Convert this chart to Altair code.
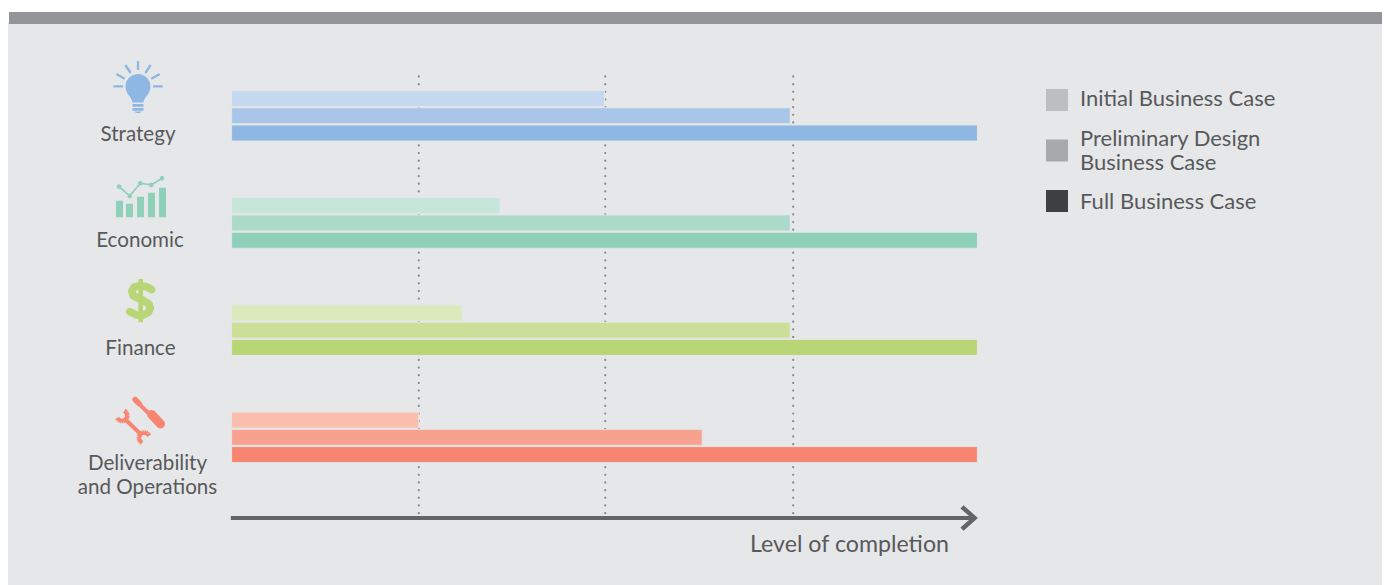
import math
import altair as alt
import pandas as pd

# ---- chart values ----
categories = ["Strategy", "Economic", "Finance", "Deliverability"]
row_labels = ["Strategy", "Economic", "Finance", "Deliverability\nand Operations"]
stages = ["Initial Business Case", "Preliminary Design\nBusiness Case", "Full Business Case"]
initial_values = [50.0, 36.0, 30.9, 25.1]
preliminary_values = [74.9, 74.9, 74.9, 63.1]
full_values = [100, 100, 100, 100]
grid_values = [25.1, 50.1, 75.3]
colors_initial = ["#c4d8ef", "#c7e6da", "#dce9bd", "#fabfae"]
colors_preliminary = ["#a9c6e8", "#abdac8", "#cbdf99", "#f9a18f"]
colors_full = ["#8fb7e3", "#8fd0b8", "#b8d676", "#f88571"]
legend_colors = ["#bcbec0", "#a7a9ac", "#3f4042"]

PANEL = "#e6e7e9"
BAR = "#939598"
GRID = "#8a8c8f"
TEXT = "#58595b"
ARROW = "#646466"
FONT = "Lato"
W, H = 1374, 577

# ---- scales ----
x_scale = alt.Scale(domain=[0, 100], range=[223.6, 969.4])
y_scale = alt.Scale(type="band", domain=categories, range=[83, 454.1], paddingInner=0.538, paddingOuter=0)
offset_scale = alt.Scale(domain=stages, paddingInner=0.13, paddingOuter=0)
legend_y = alt.Scale(type="point", domain=stages, range=[92, 193], padding=0)

# ---- icon outlines (drawn at symbol size 4: one path unit is one pixel) ----
def poly(pts):
    return "M" + "L".join(f"{x:.2f},{y:.2f}" for x, y in pts) + "Z"

def seg(a, b, w):
    dx, dy = b[0] - a[0], b[1] - a[1]
    n = math.hypot(dx, dy) or 1
    ox, oy = -dy / n * w / 2, dx / n * w / 2
    return poly([(a[0] + ox, a[1] + oy), (b[0] + ox, b[1] + oy), (b[0] - ox, b[1] - oy), (a[0] - ox, a[1] - oy)])

def circle(c, r, n=20):
    return poly([(c[0] + r * math.cos(-2 * math.pi * i / n), c[1] + r * math.sin(-2 * math.pi * i / n)) for i in range(n)])

def chain(pts, w):
    out = [seg(pts[i], pts[i + 1], w) for i in range(len(pts) - 1)]
    out += [circle(p, w / 2) for p in pts]
    return "".join(out)

def rect(x0, y0, x1, y1):
    return poly([(x0, y0), (x1, y0), (x1, y1), (x0, y1)])

def arc(c, r, start, stop, w, n=14):
    pts = []
    for i in range(n + 1):
        a = math.radians(start + (stop - start) * i / n)
        pts.append((c[0] + r * math.cos(a), c[1] + r * math.sin(a)))
    return "".join(seg(pts[i], pts[i + 1], w) for i in range(n))

def bulb(dx, dy):
    P = lambda x, y: (x + dx, y + dy)
    rays = [((0, -27), (0, -18)), ((-12.7, -23), (-7.3, -15)), ((12.7, -23), (7.3, -15)),
            ((-21.7, -14), (-13.3, -9.3)), ((21.7, -14), (13.3, -9.3)),
            ((-24.7, -1.7), (-15, -1.7)), ((15, -1.7), (24.7, -1.7))]
    s = "".join(seg(P(*a), P(*b), 2.3) for a, b in rays)
    f = lambda x, y: f"{x + dx:.2f},{y + dy:.2f}"
    s += (f"M{f(-5.5, 14.5)}C{f(-6, 9)} {f(-12.5, 6)} {f(-12.5, -1.5)}"
          f"C{f(-12.5, -9)} {f(-6.5, -14)} {f(0, -14)}"
          f"C{f(6.5, -14)} {f(12.5, -9)} {f(12.5, -1.5)}"
          f"C{f(12.5, 6)} {f(6, 9)} {f(5.5, 14.5)}Z")
    s += rect(-5.5 + dx, 16 + dy, 5.5 + dx, 18.7 + dy) + rect(-5.5 + dx, 20 + dy, 5.5 + dx, 22.7 + dy)
    s += poly([P(-4, 23.5), P(4, 23.5), P(1.5, 25), P(-1.5, 25)])
    return s

def economy(dx, dy):
    P = lambda x, y: (x + dx, y + dy)
    s = ""
    for x0, x1, top in [(-25, -18, 2.7), (-15, -8, 5.7), (-4, 3, -1.3), (7, 14, -5.3), (18, 25, -10.3)]:
        s += rect(x0 + dx, top + dy, x1 + dx, 19.3 + dy)
    pts = [P(-22, -11.3), P(-11.3, -2), P(-0.7, -14.7), P(10.3, -13), P(21, -19.7)]
    s += "".join(seg(pts[i], pts[i + 1], 1.7) for i in range(4))
    s += "".join(circle(p, 2.3) for p in pts)
    return s

def dollar(dx, dy):
    P = lambda x, y: (x + dx, y + dy)
    curve = [(11, -11), (5.5, -14), (-1, -15), (-6.5, -13.5), (-9, -9.5), (-7.5, -5), (-2.5, -2.2),
             (3, 0), (8, 3), (9.7, 7.5), (7.5, 12), (2, 14.7), (-4.5, 14.3), (-11, 11)]
    s = chain([P(*p) for p in curve], 7.6)
    s += seg(P(0, -21.7), P(0, 21.7), 4.6)
    return s

def tools(dx, dy):
    P = lambda x, y: (x + dx, y + dy)
    s = chain([P(-5, -20.5), P(-0.5, -16)], 5.5)
    s += seg(P(-3, -18), P(12, -3.3), 4)
    s += chain([P(11.5, -5.5), P(20.5, 4)], 9)
    s += seg(P(-15, -1), P(2, 15.5), 4)
    s += arc(P(-18, -4.3), 5.4, -65, 155, 4.6)
    s += arc(P(4.3, 18), 5.4, 115, 335, 4.6)
    return s

icon_paths = [bulb(-2, -27.75), economy(1, -25), dollar(0.7, -29.5), tools(0, -17.4)]

# ---- tables ----
rows = []
for i, cat in enumerate(categories):
    for stage, val in zip(stages, (initial_values[i], preliminary_values[i], full_values[i])):
        rows.append({"cat": cat, "stage": stage, "value": val, "key": f"{cat}|{stage}"})
bars_df = pd.DataFrame(rows)
bar_keys = list(bars_df["key"])
bar_colors = [c for t in zip(colors_initial, colors_preliminary, colors_full) for c in t]
icons_df = pd.DataFrame({"cat": categories})
grid_df = pd.DataFrame({"value": grid_values})
legend_df = pd.DataFrame({"stage": stages})
one = alt.Data(values=[{}])

# ---- layers ----
panel = alt.Chart(one).mark_rect(color=PANEL).encode(
    x=alt.value(0), x2=alt.value(W), y=alt.value(14), y2=alt.value(H))
top_bar = alt.Chart(one).mark_rect(color=BAR).encode(
    x=alt.value(1), x2=alt.value(W), y=alt.value(4), y2=alt.value(16))

grid = alt.Chart(grid_df).mark_rule(color=GRID, strokeWidth=2.3, strokeDash=[0.01, 7.65], strokeCap="round").encode(
    x=alt.X("value:Q", scale=x_scale, axis=None), y=alt.value(68.5), y2=alt.value(506))

bars = alt.Chart(bars_df).mark_bar(size=16, stroke=PANEL, strokeWidth=1, strokeOpacity=0.9).encode(
    x=alt.X("value:Q", scale=x_scale, axis=None),
    y=alt.Y("cat:N", scale=y_scale, axis=None),
    yOffset=alt.YOffset("stage:N", scale=offset_scale),
    color=alt.Color("key:N", scale=alt.Scale(domain=bar_keys, range=bar_colors), legend=None),
)

icons = alt.Chart(icons_df).mark_point(filled=True, size=4, opacity=1, strokeWidth=0).encode(
    x=alt.value(132),
    y=alt.Y("cat:N", scale=y_scale, axis=None),
    shape=alt.Shape("cat:N", scale=alt.Scale(domain=categories, range=icon_paths), legend=None),
    color=alt.Color("cat:N", scale=alt.Scale(domain=categories, range=colors_full), legend=None),
)

label_layers = []
for cat, lab, px, dy in zip(categories, row_labels, [130, 132, 132.5, 139.5], [18.75, 18.5, 18.5, 27]):
    label_layers.append(
        alt.Chart(pd.DataFrame({"cat": [cat], "label": [lab]})).mark_text(
            font=FONT, fontSize=20.6, color=TEXT, align="center", baseline="middle",
            dy=dy, lineBreak="\n", lineHeight=23.5,
        ).encode(x=alt.value(px), y=alt.Y("cat:N", scale=y_scale, axis=None), text="label:N")
    )

axis_line = alt.Chart(pd.DataFrame({"a": [-0.1], "b": [99.7]})).mark_rule(color=ARROW, strokeWidth=4).encode(
    x=alt.X("a:Q", scale=x_scale, axis=None), x2="b:Q", y=alt.value(510))
head = "M-17,-9.5L-13.8,-12.7L0.5,0L-13.8,12.7L-17,9.5L-6,0Z"
arrow_head = alt.Chart(pd.DataFrame({"a": [100.0]})).mark_point(
    filled=True, size=4, opacity=1, strokeWidth=0, color=ARROW, shape=head
).encode(x=alt.X("a:Q", scale=x_scale, axis=None), y=alt.value(510))
axis_title = alt.Chart(pd.DataFrame({"t": ["Level of completion"]})).mark_text(
    font=FONT, fontSize=23.2, color=TEXT, align="center", baseline="middle"
).encode(x=alt.value(841.5), y=alt.value(536.5), text="t:N")

legend_swatches = alt.Chart(legend_df).mark_point(filled=True, size=484, shape="square", opacity=1, strokeWidth=0).encode(
    x=alt.value(1049),
    y=alt.Y("stage:N", scale=legend_y, axis=None),
    color=alt.Color("stage:N", scale=alt.Scale(domain=stages, range=legend_colors), legend=None),
)
legend_texts = []
for stage, dy in zip(stages, [-1, -12, 1]):
    legend_texts.append(
        alt.Chart(pd.DataFrame({"stage": [stage]})).mark_text(
            font=FONT, fontSize=22, color=TEXT, align="left", baseline="middle",
            dy=dy, lineBreak="\n", lineHeight=24,
        ).encode(x=alt.value(1072), y=alt.Y("stage:N", scale=legend_y, axis=None), text="stage:N")
    )

chart = alt.layer(
    panel, top_bar, grid, bars, icons, *label_layers, axis_line, arrow_head, axis_title,
    legend_swatches, *legend_texts
).resolve_scale(color="independent", shape="independent", y="independent").properties(
    width=W, height=H, background="white", padding=0,
    autosize=alt.AutoSizeParams(type="none"),
).configure_view(stroke=None)

chart.save("out.html", embed_options={"renderer": "svg", "actions": False})
